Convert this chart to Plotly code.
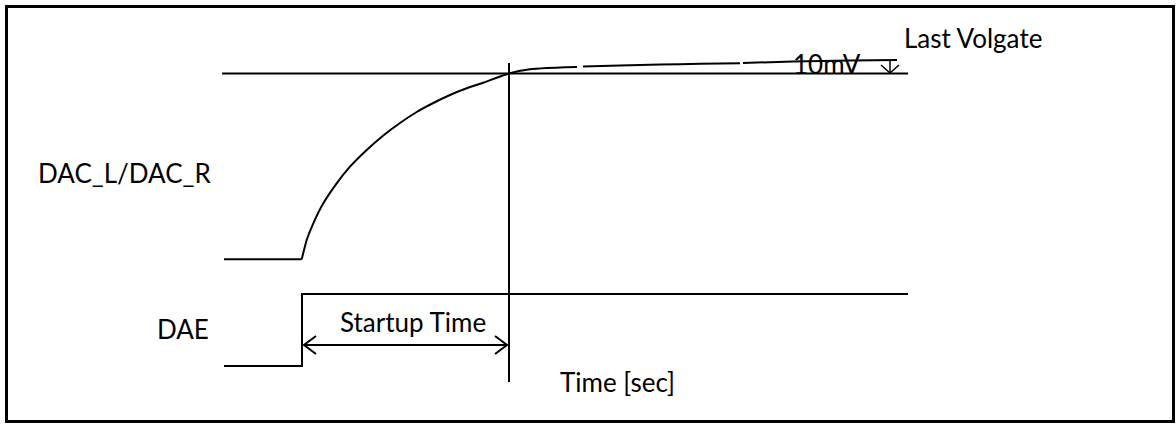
import plotly.graph_objects as go

# Timing diagram data (time axis in drawing units, level in drawing units; y grows downward)
dac_x = [224, 301.7, 306.7, 313.3, 323.3, 336.7, 350, 366.7, 383.3, 400, 416.7, 433.3, 450, 466.7, 483.3, 509, 530, 547, 565, 577,
         None, 583, 620, 660, 700, 740, None, 743, 793, 850, 897]
dac_y = [259.3, 259.3, 240, 223.3, 203.3, 183.3, 166.7, 150, 135.5, 123, 112, 103, 95, 88.3, 82.7, 73.5, 69.3, 68, 67.3, 67,
         None, 66.5, 65.5, 64.5, 63.8, 63.2, None, 63, 61.5, 60.5, 60]
ref_x = [222, 908]
ref_y = [73.5, 73.5]
dae_x = [224, 302, 302, 908]
dae_y = [366, 366, 294, 294]
mark_x = [509, 509]
mark_y = [63, 382]
startup_x = [304, 507]
startup_y = [345, 345]

LINE = dict(color="black", width=2)
fig = go.Figure()
fig.add_trace(go.Scatter(x=ref_x, y=ref_y, mode="lines", line=LINE))
fig.add_trace(go.Scatter(x=dac_x[:2], y=dac_y[:2], mode="lines", line=LINE))
fig.add_trace(go.Scatter(x=dac_x[1:], y=dac_y[1:], mode="lines",
                         line=dict(color="black", width=2, shape="spline", smoothing=0.5), connectgaps=False))
fig.add_trace(go.Scatter(x=dae_x, y=dae_y, mode="lines", line=LINE))
fig.add_trace(go.Scatter(x=mark_x, y=mark_y, mode="lines", line=LINE))
fig.add_trace(go.Scatter(x=startup_x, y=startup_y, mode="lines", line=LINE))
# chevron arrowheads of startup arrow
fig.add_trace(go.Scatter(x=[316, startup_x[0], 316], y=[336, 345, 354], mode="lines", line=LINE))
fig.add_trace(go.Scatter(x=[495, startup_x[1], 495], y=[336, 345, 354], mode="lines", line=LINE))
# 10mV down arrow
fig.add_trace(go.Scatter(x=[890, 890], y=[60, 73], mode="lines", line=dict(color="black", width=1.5)))
fig.add_trace(go.Scatter(x=[881, 890, 899], y=[65, 73, 65], mode="lines", line=dict(color="black", width=1.5)))

FONT = dict(family="Lato", size=26, color="black")
texts = [
    ("Last Volgate", 973, 38),
    ("10mV", 827, 64),
    ("DAC_L/DAC_R", 124, 173),
    ("DAE", 183, 329),
    ("Startup Time", 413, 322),
    ("Time [sec]", 617, 382),
]
for t, x, y in texts:
    fig.add_annotation(x=x, y=y, text=t, showarrow=False, font=FONT, xanchor="center", yanchor="middle")

fig.add_shape(type="rect", x0=6.5, y0=6.5, x1=1173.5, y1=421.5, line=dict(color="black", width=3))

fig.update_layout(
    width=1176, height=424, autosize=False,
    margin=dict(l=0, r=0, t=0, b=0),
    paper_bgcolor="white", plot_bgcolor="white",
    showlegend=False,
    xaxis=dict(range=[0, 1176], visible=False, fixedrange=True),
    yaxis=dict(range=[424, 0], visible=False, fixedrange=True),
)
fig.write_html("out.html", config={"displayModeBar": False},
               post_script="document.body.style.margin='0';document.body.style.overflow='hidden';")
